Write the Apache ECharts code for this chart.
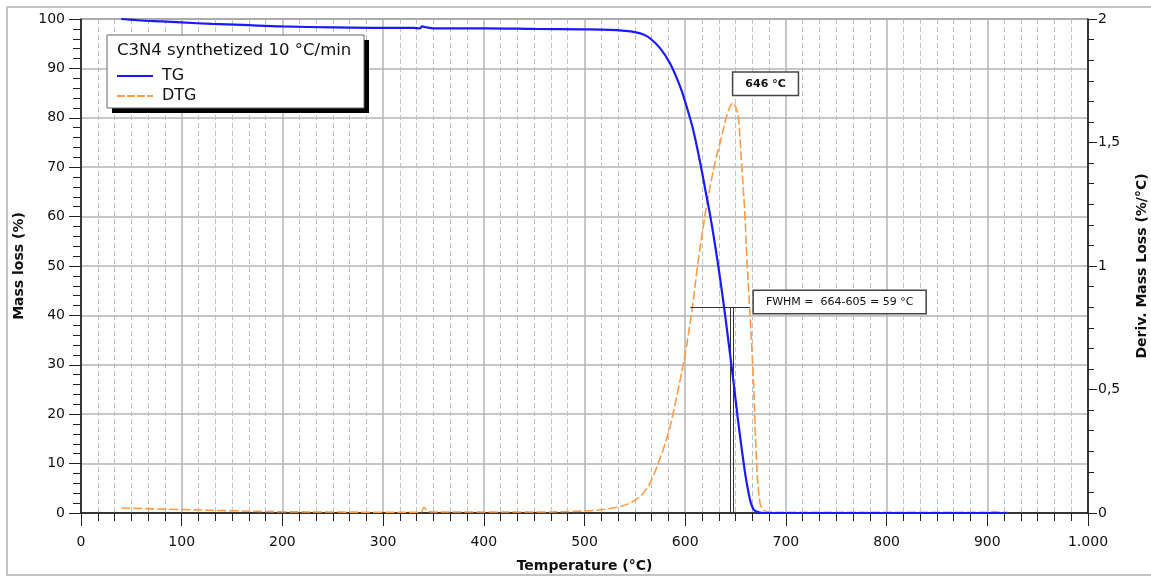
<!DOCTYPE html>
<html>
<head>
<meta charset="utf-8">
<script src="https://cdn.jsdelivr.net/npm/echarts@6/dist/echarts.min.js"></script>
<style>
  html, body { margin: 0; padding: 0; background: #fff; overflow: hidden; }
  #main { width: 1151px; height: 577px; }
</style>
</head>
<body>
<div id="main"></div>
<script>
// TG curve (mass %, left axis)
var tgTemp = [40, 60, 80, 100, 130, 160, 200, 250, 300, 330, 336, 339, 343, 350, 400, 450, 500, 525, 540, 550, 558, 565, 575, 585, 595, 601.5, 608, 615, 620, 625, 630, 635, 640, 644, 648, 652, 656, 660, 663, 665, 668, 672, 676, 682, 700, 800, 920];
var tgMass = [100, 99.7, 99.5, 99.3, 99.0, 98.8, 98.5, 98.3, 98.2, 98.2, 98.1, 98.5, 98.3, 98.1, 98.1, 98.0, 97.9, 97.8, 97.6, 97.35, 96.9, 96.1, 94.1, 91.0, 86.3, 82.2, 77.5, 70.8, 65.4, 60.0, 53.8, 47, 39.5, 33, 26.5, 19.5, 13.2, 7.4, 4.0, 2.2, 0.7, 0.18, 0.04, 0, 0, 0, 0];

// DTG curve (%/°C, right axis)
var dtgTemp = [40, 100, 150, 200, 250, 300, 335, 338, 340.5, 344, 350, 400, 450, 500, 520, 535, 545, 555, 562, 568, 578, 585, 593, 600, 607, 613, 618, 621, 626, 631, 636, 641, 644.5, 647.5, 650, 652.7, 656, 659.4, 661, 664, 667.7, 671, 674.3, 678, 684, 700, 800, 900, 906, 912, 920];
var dtgRate = [0.02, 0.014, 0.009, 0.005, 0.004, 0.003, 0.003, 0.004, 0.023, 0.008, 0.004, 0.004, 0.004, 0.008, 0.015, 0.026, 0.04, 0.066, 0.1, 0.147, 0.255, 0.35, 0.5, 0.645, 0.829, 1.024, 1.16, 1.24, 1.348, 1.443, 1.52, 1.604, 1.645, 1.661, 1.645, 1.604, 1.416, 1.2, 1.05, 0.834, 0.54, 0.2, 0.04, 0.012, 0.004, 0.003, 0.003, 0.003, 0.006, 0.003, 0.003];

var xTicks = [0, 100, 200, 300, 400, 500, 600, 700, 800, 900, 1000];
var fwhm = [605, 664];
var peakT = 646;
var halfMax = 0.834;

var font = 'DejaVu Sans';

function pairs(xs, ys) {
  var out = [];
  for (var i = 0; i < xs.length; i++) out.push([xs[i], ys[i]]);
  return out;
}

var option = {
  animation: false,
  backgroundColor: '#fff',
  textStyle: { fontFamily: font },
  grid: {
    left: 81, right: 63, top: 19, bottom: 64,
    outerBoundsMode: 'none', containLabel: false,
    show: true, borderColor: '#222', borderWidth: 1
  },
  graphic: [
    { type: 'rect', shape: { x: 7, y: 7, width: 1150, height: 568 }, style: { fill: 'none', stroke: '#c4c4c4', lineWidth: 2 }, z: 0 },
    { type: 'rect', shape: { x: 112, y: 40, width: 257, height: 73 }, style: { fill: '#000' }, z: 20 },
    { type: 'rect', shape: { x: 107, y: 35, width: 257, height: 73 }, style: { fill: '#fff', stroke: '#666', lineWidth: 1 }, z: 21 },
    { type: 'text', left: 117, top: 42, style: { text: 'C3N4 synthetized 10 °C/min', font: '16.5px "DejaVu Sans"', fill: '#111' }, z: 22 }
  ],
  legend: {
    orient: 'vertical',
    left: 112, top: 63,
    itemGap: 4, itemWidth: 36, itemHeight: 14,
    z: 30,
    textStyle: { fontFamily: font, fontSize: 16, color: '#111', padding: [0, 0, 0, 4] },
    data: [
      { name: 'TG', icon: 'path://M0,6 L36,6 L36,8 L0,8 Z', itemStyle: { color: '#1a1aff' } },
      { name: 'DTG', icon: 'path://M0,6 L8,6 L8,8 L0,8 Z M10,6 L18,6 L18,8 L10,8 Z M20,6 L28,6 L28,8 L20,8 Z M30,6 L36,6 L36,8 L30,8 Z', itemStyle: { color: '#ff9a45' } }
    ]
  },
  xAxis: {
    type: 'value', min: 0, max: 1000, interval: 100,
    name: 'Temperature (°C)', nameLocation: 'middle', nameGap: 46,
    nameTextStyle: { fontFamily: font, fontWeight: 'bold', fontSize: 14, color: '#111' },
    axisLine: { lineStyle: { color: '#111', width: 1.5 } },
    axisTick: { length: 13, lineStyle: { color: '#222' } },
    minorTick: { show: true, splitNumber: 6, length: 8, lineStyle: { color: '#222' } },
    axisLabel: {
      margin: 22, fontFamily: font, fontSize: 14, color: '#111',
      formatter: function (v) { return v === 1000 ? '1.000' : String(v); }
    },
    splitLine: { show: true, lineStyle: { color: '#b4b4b4', width: 1.5 } },
    minorSplitLine: { show: true, lineStyle: { color: '#c0c0c0', width: 1, type: [5, 3] } }
  },
  yAxis: [
    {
      type: 'value', min: 0, max: 100, interval: 10,
      name: 'Mass loss (%)', nameLocation: 'middle', nameGap: 55,
      nameTextStyle: { fontFamily: font, fontWeight: 'bold', fontSize: 14, color: '#111' },
      axisLine: { show: true, lineStyle: { color: '#111', width: 1.5 } },
      axisTick: { length: 12, lineStyle: { color: '#222' } },
      minorTick: { show: true, splitNumber: 5, length: 8, lineStyle: { color: '#222' } },
      axisLabel: { margin: 16, fontFamily: font, fontSize: 14, color: '#111' },
      splitLine: { show: true, lineStyle: { color: '#b4b4b4', width: 1.5 } }
    },
    {
      type: 'value', min: 0, max: 2, interval: 0.5, position: 'right',
      name: 'Deriv. Mass Loss (%/°C)', nameLocation: 'middle', nameGap: 47, nameRotate: 90,
      nameTextStyle: { fontFamily: font, fontWeight: 'bold', fontSize: 14, color: '#111' },
      axisLine: { show: true, lineStyle: { color: '#111', width: 1.5 } },
      axisTick: { length: 9, lineStyle: { color: '#222' } },
      minorTick: { show: true, splitNumber: 6, length: 6, lineStyle: { color: '#222' } },
      axisLabel: {
        margin: 10, fontFamily: font, fontSize: 14, color: '#111',
        formatter: function (v) { return String(v).replace('.', ','); }
      },
      splitLine: { show: false }
    }
  ],
  series: [
    {
      name: 'TG', type: 'line', yAxisIndex: 0, showSymbol: false, symbol: 'none',
      smooth: 0.35,
      lineStyle: { color: '#1a1aff', width: 2.2 },
      itemStyle: { color: '#1a1aff' },
      data: pairs(tgTemp, tgMass), z: 5
    },
    {
      name: 'DTG', type: 'line', yAxisIndex: 1, showSymbol: false, symbol: 'none',
      smooth: 0.35,
      lineStyle: { color: '#ff9a45', width: 1.6, type: [9, 3] },
      itemStyle: { color: '#ff9a45' },
      data: pairs(dtgTemp, dtgRate), z: 4,
      markLine: {
        silent: true, symbol: 'none',
        lineStyle: { color: '#333', width: 1, type: 'solid' },
        label: { show: false },
        data: [
          [{ coord: [fwhm[0], halfMax] }, { coord: [fwhm[1], halfMax] }],
          [{ coord: [peakT - 0.8, 0] }, { coord: [peakT - 0.8, halfMax] }],
          [{ coord: [peakT + 1.4, 0] }, { coord: [peakT + 1.4, halfMax] }]
        ]
      },
      markPoint: {
        silent: true, symbol: 'circle', symbolSize: 1,
        itemStyle: { color: 'rgba(0,0,0,0)' },
        data: [
          {
            coord: [peakT + 1, 1.661],
            label: {
              show: true, position: 'inside', offset: [33, -19],
              formatter: peakT + ' °C',
              fontFamily: font, fontSize: 11, fontWeight: 'bold', color: '#111',
              backgroundColor: '#fff', borderColor: '#444', borderWidth: 1.5,
              padding: [6, 12, 5, 12]
            }
          },
          {
            coord: [fwhm[1], halfMax],
            label: {
              show: true, position: 'inside', offset: [90, -5],
              formatter: 'FWHM =  ' + fwhm[1] + '-' + fwhm[0] + ' = ' + (fwhm[1] - fwhm[0]) + ' °C',
              fontFamily: font, fontSize: 11, color: '#111',
              backgroundColor: '#fff', borderColor: '#444', borderWidth: 1.5,
              padding: [6, 12, 5, 12]
            }
          }
        ]
      }
    }
  ]
};

var myChart = echarts.init(document.getElementById('main'));
myChart.setOption(option);
</script>
</body>
</html>
